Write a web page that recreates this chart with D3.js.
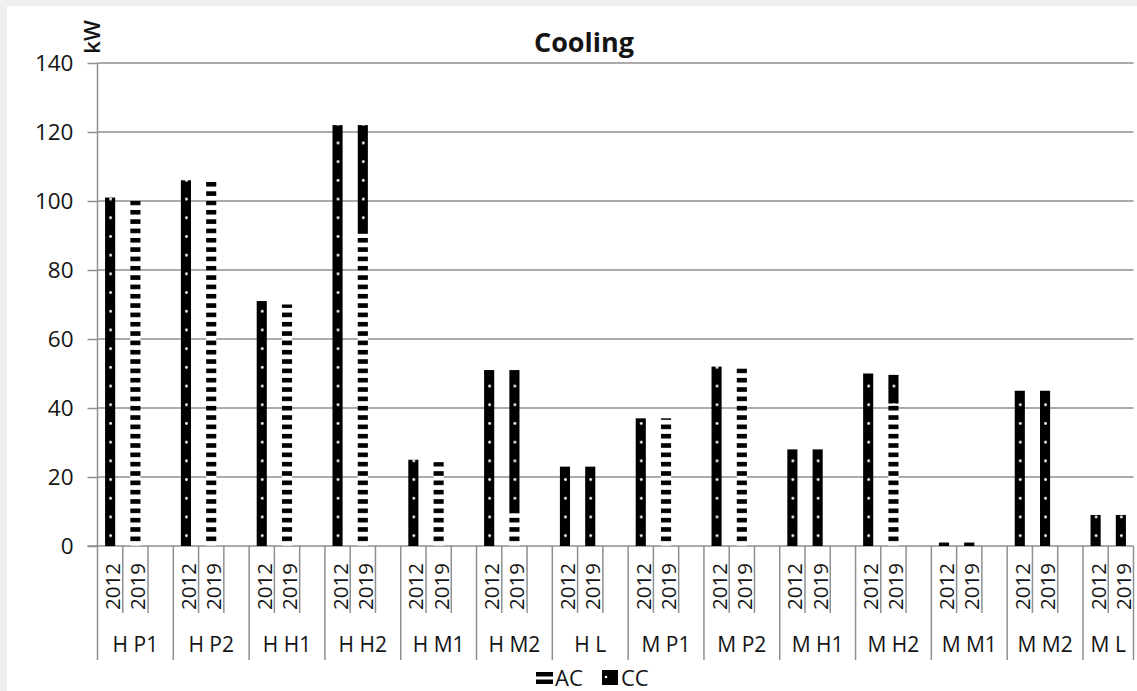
<!DOCTYPE html>
<html>
<head>
<meta charset="utf-8">
<script src="https://cdn.jsdelivr.net/npm/d3@7"></script>
<style>
  html, body { margin: 0; padding: 0; background: #efefef; }
  svg { display: block; }
  text { font-family: "Open Sans", "Liberation Sans", sans-serif; fill: #141414; }
</style>
</head>
<body>
<svg id="chart" width="1137" height="691"></svg>
<script>
// Cooling capacity per building, 2012 vs 2019, split into AC and CC (kW)
const groups = ["H P1", "H P2", "H H1", "H H2", "H M1", "H M2", "H L",
                "M P1", "M P2", "M H1", "M H2", "M M1", "M M2", "M L"];
const years = ["2012", "2019"];
const seriesNames = ["AC", "CC"];

const ac2012 = [0, 0, 0, 0, 0, 0, 0, 0, 0, 0, 0, 0, 0, 0];
const cc2012 = [101, 106, 71, 122, 25, 51, 23, 37, 52, 28, 50, 1, 45, 9];
const ac2019 = [101, 106, 70, 90.5, 24.3, 9.5, 0, 37, 51.5, 0, 41.3, 0, 0, 0];
const cc2019 = [0, 0, 0, 31.5, 0, 41.5, 23, 0, 0, 28, 8.3, 1, 45, 9];

const yTicks = [0, 20, 40, 60, 80, 100, 120, 140];

// Leaf slots: 2012, 2019 and a spacer after every group except the last
const slots = [];
groups.forEach((g, gi) => {
  slots.push({ key: g + "|2012", group: g, year: years[0], AC: ac2012[gi], CC: cc2012[gi] });
  slots.push({ key: g + "|2019", group: g, year: years[1], AC: ac2019[gi], CC: cc2019[gi] });
  if (gi < groups.length - 1) slots.push({ key: g + "|gap", group: g, year: null, AC: 0, CC: 0 });
});

const svg = d3.select("#chart");
svg.append("rect").attr("x", 7).attr("y", 6).attr("width", 1130).attr("height", 685).attr("fill", "#fff");

const plotLeft = 97.5, plotRight = 1133.5, plotTop = 63, plotBottom = 546;
const x = d3.scaleBand().domain(slots.map(d => d.key)).range([plotLeft, plotRight]).padding(0);
const y = d3.scaleLinear().domain([0, 140]).range([plotBottom, plotTop]);
const bw = x.bandwidth();
const barW = bw * 0.4;

// Fill patterns: AC = horizontal dashes, CC = black with white dots
const defs = svg.append("defs");
const acPat = defs.append("pattern").attr("id", "pat-ac")
  .attr("patternUnits", "userSpaceOnUse")
  .attr("x", plotLeft).attr("y", 536.5).attr("width", bw).attr("height", 9.33);
acPat.append("rect").attr("width", bw).attr("height", 9.33).attr("fill", "#fff");
acPat.append("rect").attr("x", 0).attr("y", 0).attr("width", bw).attr("height", 4.6).attr("fill", "#000");

const ccPat = defs.append("pattern").attr("id", "pat-cc")
  .attr("patternUnits", "userSpaceOnUse")
  .attr("x", plotLeft).attr("y", 535.7 - 9.35).attr("width", bw).attr("height", 18.7);
ccPat.append("rect").attr("width", bw).attr("height", 18.7).attr("fill", "#000");
ccPat.append("circle").attr("cx", bw / 2 + 0.5).attr("cy", 9.35).attr("r", 1.4).attr("fill", "#fff");

const fills = { AC: "url(#pat-ac)", CC: "url(#pat-cc)" };

// Gridlines
svg.append("g").selectAll("line").data(yTicks.filter(t => t > 0)).join("line")
  .attr("x1", plotLeft).attr("x2", plotRight)
  .attr("y1", d => y(d)).attr("y2", d => y(d))
  .attr("stroke", "#8f8f8f").attr("stroke-width", 1.5);

// Y axis
const yAxis = d3.axisLeft(y).tickValues(yTicks).tickSize(10).tickPadding(14);
const yg = svg.append("g").attr("transform", `translate(${plotLeft},0)`).call(yAxis);
yg.select(".domain").attr("stroke", "#8f8f8f").attr("stroke-width", 1.5).attr("d", `M0,${plotTop}V${plotBottom}`);
yg.selectAll(".tick line").attr("stroke", "#8f8f8f").attr("stroke-width", 1.5);
yg.selectAll(".tick text").style("font-size", "22.5px").attr("fill", "#141414")
  .style("font-family", "'Open Sans', sans-serif");

// X axis baseline
svg.append("line").attr("x1", plotLeft - 10).attr("x2", plotRight).attr("y1", plotBottom).attr("y2", plotBottom)
  .attr("stroke", "#8f8f8f").attr("stroke-width", 1.5);

// Stacked bars
const stack = d3.stack().keys(seriesNames);
const stacked = stack(slots.filter(d => d.year));
svg.append("g").selectAll("g").data(stacked).join("g")
  .attr("fill", s => fills[s.key])
  .selectAll("rect").data(s => s.filter(p => p[1] > p[0])).join("rect")
  .attr("x", p => x(p.data.key) + (bw - barW) / 2)
  .attr("width", barW)
  .attr("y", p => y(p[1]))
  .attr("height", p => y(p[0]) - y(p[1]));

// Category axis dividers: short between slots, long at group edges
const bounds = d3.range(slots.length + 1).map(i => ({ i, xpos: plotLeft + i * bw, long: i % 3 === 0 || i === slots.length }));
svg.append("g").selectAll("line").data(bounds).join("line")
  .attr("x1", d => d.xpos).attr("x2", d => d.xpos)
  .attr("y1", plotBottom).attr("y2", d => d.long ? 660 : 613)
  .attr("stroke", "#8f8f8f").attr("stroke-width", 1.5);

// Year labels (rotated)
svg.append("g").selectAll("text").data(slots.filter(d => d.year)).join("text")
  .attr("transform", d => `translate(${x(d.key) + bw / 2 + 2},586.5) rotate(-90)`)
  .attr("text-anchor", "middle").attr("dominant-baseline", "central")
  .style("font-size", "20.5px")
  .text(d => d.year);

// Group labels centred over their slots
svg.append("g").selectAll("text").data(groups).join("text")
  .attr("x", g => {
    const ks = slots.filter(s => s.group === g && s.year);
    const all = slots.filter(s => s.group === g);
    return (x(ks[0].key) + x(all[all.length - 1].key) + bw) / 2;
  })
  .attr("y", 652)
  .attr("text-anchor", "middle")
  .style("font-size", "21px")
  .text(g => g);

// Title and unit
svg.append("text").attr("x", 584).attr("y", 52).attr("text-anchor", "middle")
  .style("font-size", "27px").style("font-weight", "bold").text("Cooling");
svg.append("text").attr("transform", "translate(100,37) rotate(-90)")
  .attr("text-anchor", "middle").style("font-size", "22px").style("font-weight", "600").text("kW");

// Legend
const legend = svg.append("g").attr("transform", "translate(535,670)");
const acKey = legend.append("g");
acKey.append("rect").attr("x", 1).attr("y", 2).attr("width", 17).attr("height", 4.5).attr("fill", "#000");
acKey.append("rect").attr("x", 1).attr("y", 9.5).attr("width", 17).attr("height", 4.5).attr("fill", "#000");
legend.append("text").attr("x", 20).attr("y", 15.5).style("font-size", "22px").text(seriesNames[0]);
const ccKey = legend.append("g").attr("transform", "translate(67,0)");
ccKey.append("rect").attr("x", 0).attr("y", 0).attr("width", 16).attr("height", 15).attr("fill", "#000");
ccKey.append("circle").attr("cx", 4).attr("cy", 7).attr("r", 1.3).attr("fill", "#fff");
legend.append("text").attr("x", 86).attr("y", 15.5).style("font-size", "22px").text(seriesNames[1]);
</script>
</body>
</html>
